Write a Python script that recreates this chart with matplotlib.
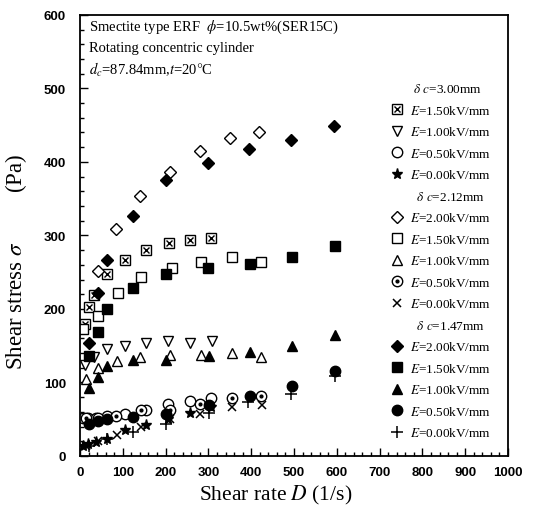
import matplotlib
matplotlib.use("Agg")
import matplotlib.pyplot as plt
from matplotlib.lines import Line2D
from matplotlib.legend_handler import HandlerTuple
from matplotlib.ticker import MultipleLocator

plt.rcParams['font.family'] = ['Liberation Serif', 'DejaVu Serif']
plt.rcParams['mathtext.fontset'] = 'stix'

# --- data: shear rate D (1/s) vs shear stress (Pa) ---
# gap 3.00 mm
D_300_150 = [11, 22, 33, 62, 105, 155, 208, 257, 306]
S_300_150 = [180, 202, 219, 247, 266, 280, 289, 294, 296]
D_300_100 = [12, 32, 62, 104, 155, 206, 257, 308]
S_300_100 = [124, 135, 145, 150, 153, 156, 153, 156]
D_300_050 = [7, 18, 37, 62, 104, 155, 206, 257, 306]
S_300_050 = [52, 52, 52, 54, 57, 63, 70, 75, 79]
D_300_000 = [7, 18, 37, 62, 104, 155, 206, 257, 306]
S_300_000 = [14, 16, 19, 23, 35, 42, 50, 59, 66]

# gap 2.12 mm
D_212_200 = [41, 85, 141, 211, 281, 350, 419]
S_212_200 = [251, 309, 353, 386, 415, 433, 441]
D_212_150 = [7, 43, 88, 143, 214, 283, 354, 423]
S_212_150 = [172, 190, 221, 243, 256, 264, 270, 264]
D_212_100 = [14, 42, 86, 141, 211, 282, 354, 423]
S_212_100 = [105, 119, 129, 135, 137, 137, 140, 134]
D_212_050 = [14, 42, 85, 143, 211, 281, 354, 423]
S_212_050 = [52, 52, 55, 63, 63, 70, 79, 81]
D_212_000 = [14, 42, 86, 143, 211, 281, 354, 426]
S_212_000 = [14, 20, 28, 40, 50, 57, 66, 69]

# gap 1.47 mm
D_147_200 = [22, 41, 62, 123, 202, 300, 396, 494, 594]
S_147_200 = [154, 221, 267, 327, 376, 399, 418, 430, 449]
D_147_150 = [20, 41, 62, 123, 200, 300, 397, 495, 595]
S_147_150 = [136, 168, 200, 229, 247, 256, 261, 271, 285]
D_147_100 = [22, 41, 62, 123, 200, 302, 397, 495, 595]
S_147_100 = [93, 108, 122, 131, 131, 136, 142, 150, 165]
D_147_050 = [22, 41, 62, 123, 200, 302, 397, 495, 595]
S_147_050 = [43, 48, 50, 53, 57, 69, 82, 95, 115]
D_147_000 = [22, 62, 123, 200, 302, 393, 493, 595]
S_147_000 = [14, 23, 33, 43, 59, 73, 84, 109]

fig = plt.figure(figsize=(5.42, 5.10), dpi=100)
ax = fig.add_axes([0.1476, 0.104, 0.7897, 0.865])

k = 'black'
open_kw = dict(ls='none', mfc='white', mec=k, mew=1.0)
fill_kw = dict(ls='none', mfc=k, mec=k)


def pts(D, S, **kw):
    line, = ax.plot(D, S, **kw)
    return line


# 3.00 mm
h1a = pts(D_300_150, S_300_150, marker='s', ms=7.5, **open_kw)
h1b = pts(D_300_150, S_300_150, marker='x', ms=5, ls='none', color=k, mew=1.0)
h2 = pts(D_300_100, S_300_100, marker='v', ms=7.5, **open_kw)
h3 = pts(D_300_050, S_300_050, marker='o', ms=7.5, **open_kw)
h4 = pts(D_300_000, S_300_000, marker='*', ms=8, **fill_kw)
# 2.12 mm
h5 = pts(D_212_200, S_212_200, marker='D', ms=6, **open_kw)
h6 = pts(D_212_150, S_212_150, marker='s', ms=7.5, **open_kw)
h7 = pts(D_212_100, S_212_100, marker='^', ms=7.5, **open_kw)
h8a = pts(D_212_050, S_212_050, marker='o', ms=7.5, **open_kw)
h8b = pts(D_212_050, S_212_050, marker='o', ms=2, **fill_kw)
h9 = pts(D_212_000, S_212_000, marker='x', ms=6, ls='none', color=k, mew=1.1)
# 1.47 mm
h10 = pts(D_147_200, S_147_200, marker='D', ms=6, **fill_kw)
h11 = pts(D_147_150, S_147_150, marker='s', ms=7.5, **fill_kw)
h12 = pts(D_147_100, S_147_100, marker='^', ms=7.5, **fill_kw)
h13 = pts(D_147_050, S_147_050, marker='o', ms=7.5, **fill_kw)
h14 = pts(D_147_000, S_147_000, marker='+', ms=8, ls='none', color=k, mew=1.1)

ax.set_xlim(0, 1000)
ax.set_ylim(0, 600)
ax.xaxis.set_major_locator(MultipleLocator(100))
ax.xaxis.set_minor_locator(MultipleLocator(20))
ax.yaxis.set_major_locator(MultipleLocator(100))
ax.yaxis.set_minor_locator(MultipleLocator(20))
ax.tick_params(which='both', direction='in', top=False, right=False, width=1.0)
ax.tick_params(which='major', length=6)
ax.tick_params(which='minor', length=3)
ax.tick_params(axis='x', pad=7)
ax.tick_params(axis='y', pad=10)
for lab in ax.get_xticklabels() + ax.get_yticklabels():
    lab.set_family('Liberation Sans')
    lab.set_fontsize(9.5)
    lab.set_fontweight('bold')
for sp in ax.spines.values():
    sp.set_linewidth(1.3)

ax.set_xlabel(r'Shear rate $D$ (1/s)', fontsize=15.5)
ax.set_ylabel(r'Shear stress $\sigma$' + ' ' * 9 + '(Pa)', fontsize=16.5)
ax.xaxis.set_label_coords(0.456, -0.061)
ax.yaxis.set_label_coords(-0.118, 0.442)

info = [r'Smectite type ERF  $\phi$=10.5wt%(SER15C)',
        'Rotating concentric cylinder',
        r'$d_c$=87.84mm,$t$=20$\degree$C']
info_y = [0.973, 0.925, 0.877]
for s, y in zip(info, info_y):
    ax.text(0.021, y, s, transform=ax.transAxes,
            fontsize=10.5, va='center', ha='left')

blank = Line2D([], [], ls='none', marker='none')
handles = [blank, (h1a, h1b), h2, h3, h4,
           blank, h5, h6, h7, (h8a, h8b), h9,
           blank, h10, h11, h12, h13, h14]
labels = [r' $\delta$ $c$=3.00mm', r'$E$=1.50kV/mm', r'$E$=1.00kV/mm',
          r'$E$=0.50kV/mm', r'$E$=0.00kV/mm',
          r'  $\delta$ $c$=2.12mm', r'$E$=2.00kV/mm', r'$E$=1.50kV/mm',
          r'$E$=1.00kV/mm', r'$E$=0.50kV/mm', r'$E$=0.00kV/mm',
          r'  $\delta$ $c$=1.47mm', r'$E$=2.00kV/mm', r'$E$=1.50kV/mm',
          r'$E$=1.00kV/mm', r'$E$=0.50kV/mm', r'$E$=0.00kV/mm']
leg = ax.legend(handles, labels, loc='upper left', bbox_to_anchor=(0.725, 0.847),
                frameon=False, fontsize=9.5, handlelength=1.0, handletextpad=0.5,
                labelspacing=0.645, borderpad=0, borderaxespad=0,
                handler_map={tuple: HandlerTuple(ndivide=1)})

fig.savefig('out.png', dpi=100)
